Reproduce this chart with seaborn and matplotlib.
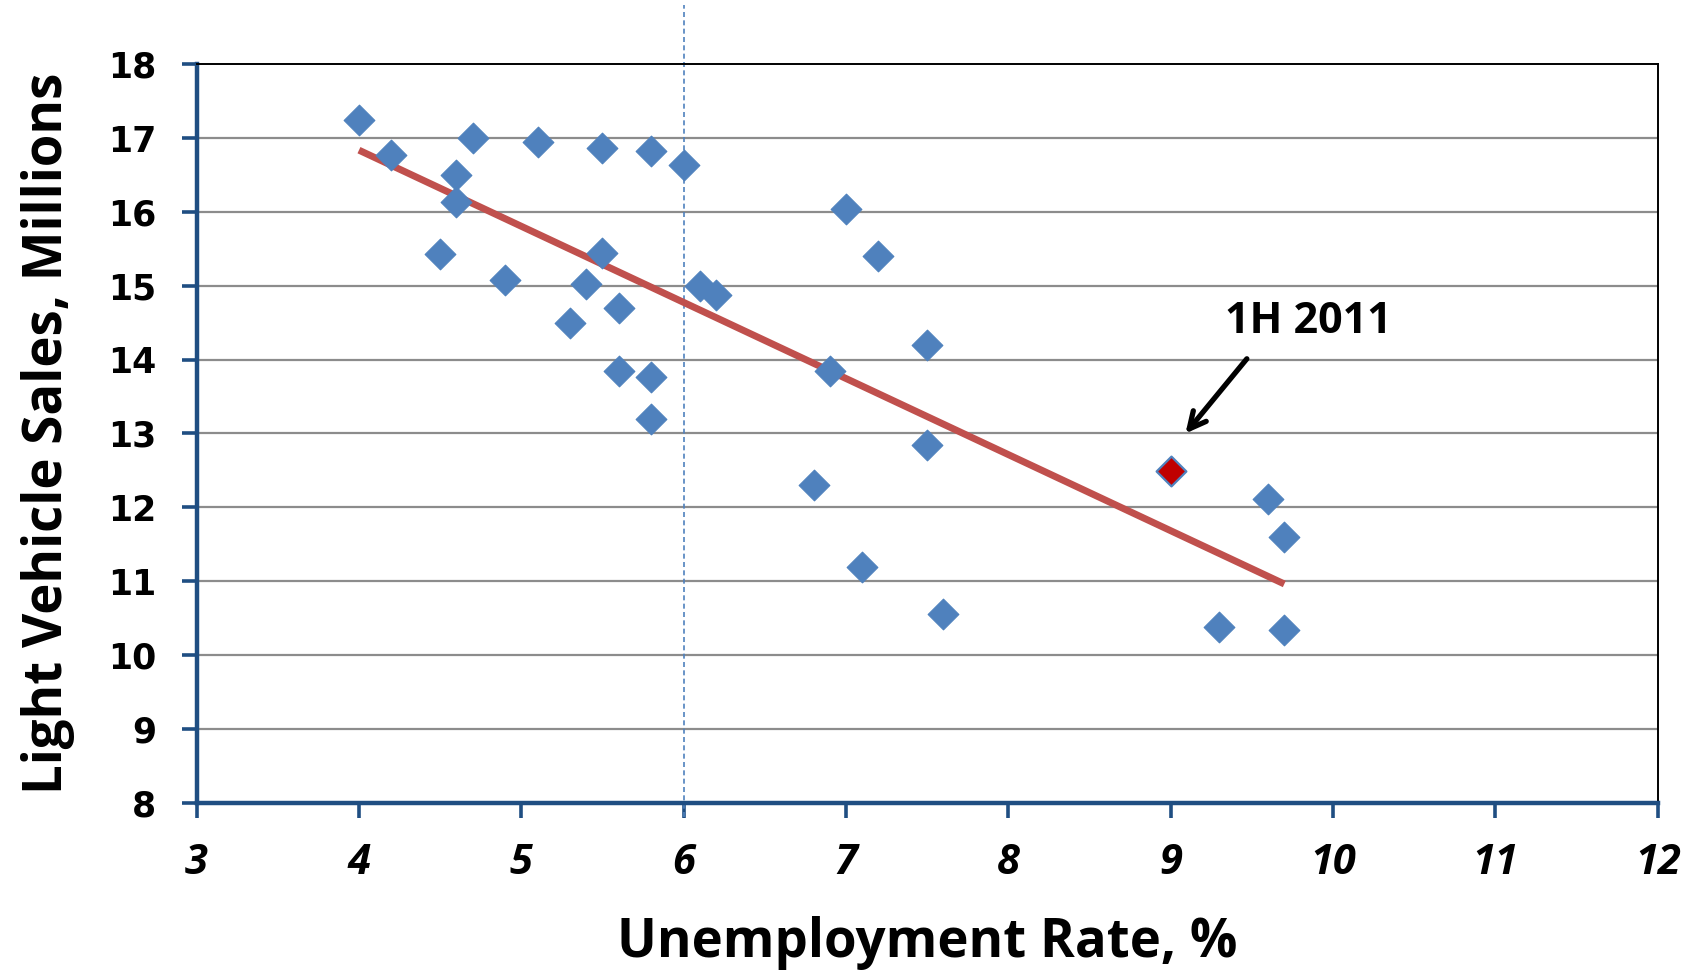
import numpy as np
import pandas as pd
import matplotlib
matplotlib.use("Agg")
import matplotlib.pyplot as plt
import seaborn as sns

# Unemployment rate (%) and light vehicle sales (millions), annual observations
unemployment = [4.0, 4.2, 4.7, 4.6, 4.6, 4.5, 4.9, 5.1, 5.5, 5.5, 5.4, 5.3, 5.6,
                5.6, 5.8, 5.8, 5.8, 6.0, 6.1, 6.2, 7.0, 7.2, 6.9, 7.5, 7.5, 6.8,
                7.1, 7.6, 9.6, 9.7, 9.3, 9.7]
sales = [17.25, 16.77, 17.0, 16.5, 16.14, 15.43, 15.08, 16.95, 16.87, 15.44,
         15.03, 14.5, 14.7, 13.85, 16.82, 13.76, 13.19, 16.64, 15.0, 14.87,
         16.04, 15.41, 13.85, 14.2, 12.84, 12.3, 11.19, 10.56, 12.11, 11.6,
         10.38, 10.34]

# First half of 2011
h1_unemployment = [9.0]
h1_sales = [12.49]
h1_label = "1H 2011"

x_ticks = [3, 4, 5, 6, 7, 8, 9, 10, 11, 12]
y_ticks = [8, 9, 10, 11, 12, 13, 14, 15, 16, 17, 18]

all_x = unemployment + h1_unemployment
all_y = sales + h1_sales
df = pd.DataFrame({"unemployment": unemployment, "sales": sales})
df_all = pd.DataFrame({"unemployment": all_x, "sales": all_y})
df_h1 = pd.DataFrame({"unemployment": h1_unemployment, "sales": h1_sales})

sns.set_theme(style="white")
plt.rcParams["font.family"] = ["DejaVu Sans"]
plt.rcParams["text.color"] = "black"
plt.rcParams["axes.labelcolor"] = "black"

BLUE = "#4F81BD"
AXIS_BLUE = "#1F4E82"
RED_LINE = "#C0504D"
NARROW = ["Liberation Sans Narrow", "Open Sans", "DejaVu Sans"]

fig = plt.figure(figsize=(16.95, 9.74), dpi=100)
ax = fig.add_axes([0.116, 0.176, 0.862, 0.758])

# horizontal grid
for yv in y_ticks[1:-1]:
    ax.axhline(yv, color="#8C8C8C", lw=1.6, zorder=0)

# linear trend over all observations
sns.regplot(data=df_all, x="unemployment", y="sales", ax=ax, ci=None,
            scatter=False, truncate=True,
            line_kws=dict(color=RED_LINE, lw=5, zorder=2, solid_capstyle="butt"))

sns.scatterplot(data=df, x="unemployment", y="sales", ax=ax, marker="D",
                s=245, color=BLUE, edgecolor=BLUE, linewidth=0.8, zorder=3)
sns.scatterplot(data=df_h1, x="unemployment", y="sales", ax=ax, marker="D",
                s=230, color="#C00000", edgecolor=BLUE, linewidth=1.6, zorder=4)

# reference line at 6% unemployment
ax.plot([6, 6], [7.8, 18.8], color=BLUE, lw=1.2, ls=(0, (3, 2)),
        clip_on=False, zorder=1)

# annotation for the first half of 2011
ax.annotate("", xy=(9.08, 12.97), xytext=(9.48, 14.04),
            arrowprops=dict(arrowstyle="->,head_length=1.0,head_width=0.5",
                            color="black", lw=3.8))
ax.text(9.85, 14.52, h1_label, ha="center", va="center", fontsize=31,
        fontweight="bold", family=NARROW, color="black")

ax.set_xlim(3, 12)
ax.set_ylim(8, 18)
ax.set_xticks(x_ticks)
ax.set_yticks(y_ticks)
ax.set_xticklabels([str(v) for v in x_ticks], fontsize=30, fontweight="bold",
                   fontstyle="italic", family=NARROW, color="black")
ax.set_yticklabels([str(v) for v in y_ticks], fontsize=25, fontweight="bold",
                   family=["DejaVu Sans"], color="black")

for side in ["left", "bottom"]:
    ax.spines[side].set_color(AXIS_BLUE)
    ax.spines[side].set_linewidth(3.2)
for side in ["top", "right"]:
    ax.spines[side].set_color("black")
    ax.spines[side].set_linewidth(1.4)

ax.tick_params(axis="both", which="major", direction="out", color=AXIS_BLUE,
               width=2.6, length=11, left=True, bottom=True)
ax.tick_params(axis="x", pad=18)
ax.tick_params(axis="y", pad=18)

ax.set_xlabel("Unemployment Rate, %", fontsize=38, fontweight="bold",
              family=NARROW, labelpad=23, color="black")
ax.set_ylabel("Light Vehicle Sales, Millions", fontsize=38, fontweight="bold",
              family=NARROW, labelpad=24, color="black")

fig.savefig("out.png", dpi=100)
